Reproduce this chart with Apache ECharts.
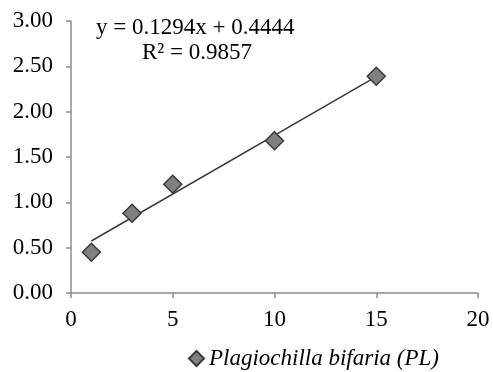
<!DOCTYPE html>
<html>
<head>
<meta charset="utf-8">
<script src="https://cdn.jsdelivr.net/npm/echarts@6/dist/echarts.min.js"></script>
<style>
  html, body { margin: 0; padding: 0; background: #fff; }
  #chart { width: 493px; height: 372px; }
</style>
</head>
<body>
<div id="chart"></div>
<script>
// data
const seriesName = 'Plagiochilla bifaria (PL)';
const xValues = [1, 3, 5, 10, 15];
const yValues = [0.45, 0.88, 1.20, 1.68, 2.39];
const yTicks = ['0.00', '0.50', '1.00', '1.50', '2.00', '2.50', '3.00'];
const xTicks = [0, 5, 10, 15, 20];
// trend line as printed on the chart
const slope = 0.1294;
const intercept = 0.4444;
const rSquared = 0.9857;

const serif = '"Liberation Serif", "DejaVu Serif", serif';
const axisColor = '#8c8c8c';

const points = xValues.map((x, i) => [x, yValues[i]]);
const xFirst = xValues[0];
const xLast = xValues[xValues.length - 1];
const trend = [
  [xFirst, intercept + slope * xFirst],
  [xLast, intercept + slope * xLast]
];

const myChart = echarts.init(document.getElementById('chart'), null, { renderer: 'canvas' });

const option = {
  animation: false,
  grid: { left: 71, right: 15, top: 21, bottom: 79 },
  legend: {
    data: [{ name: seriesName, icon: 'diamond' }],
    left: 183,
    top: 342,
    itemWidth: 15,
    itemHeight: 15,
    itemGap: 4,
    textStyle: { fontFamily: serif, fontStyle: 'italic', fontSize: 23, color: '#000' }
  },
  xAxis: {
    type: 'value',
    min: xTicks[0],
    max: xTicks[xTicks.length - 1],
    interval: 5,
    splitLine: { show: false },
    axisLine: { lineStyle: { color: axisColor, width: 1.5 } },
    axisTick: { show: true, length: 5, lineStyle: { color: axisColor, width: 1.5 } },
    axisLabel: { fontFamily: serif, fontSize: 23, color: '#000', margin: 15 }
  },
  yAxis: {
    type: 'value',
    min: 0,
    max: 3,
    interval: 0.5,
    splitLine: { show: false },
    axisLine: { show: true, lineStyle: { color: axisColor, width: 1.5 } },
    axisTick: { show: true, length: 5, lineStyle: { color: axisColor, width: 1.5 } },
    axisLabel: {
      fontFamily: serif, fontSize: 23, color: '#000', margin: 18,
      formatter: (v) => yTicks[Math.round(v / 0.5)]
    }
  },
  graphic: [
    {
      type: 'text', left: 96, top: 16,
      style: { text: 'y = 0.1294x + 0.4444', font: '23px ' + serif, fill: '#000' }
    },
    {
      type: 'text', left: 142, top: 41,
      style: { text: 'R² = ' + rSquared.toFixed(4), font: '23px ' + serif, fill: '#000' }
    }
  ],
  series: [
    {
      name: 'trend',
      type: 'line',
      data: trend,
      symbol: 'none',
      silent: true,
      lineStyle: { color: '#3a3a3a', width: 1.5 },
      z: 1
    },
    {
      name: seriesName,
      type: 'scatter',
      data: points,
      symbol: 'diamond',
      symbolSize: 18,
      itemStyle: { color: '#808080', borderColor: '#3a3a3a', borderWidth: 1.5, opacity: 1 },
      z: 2
    }
  ]
};

myChart.setOption(option);
</script>
</body>
</html>
